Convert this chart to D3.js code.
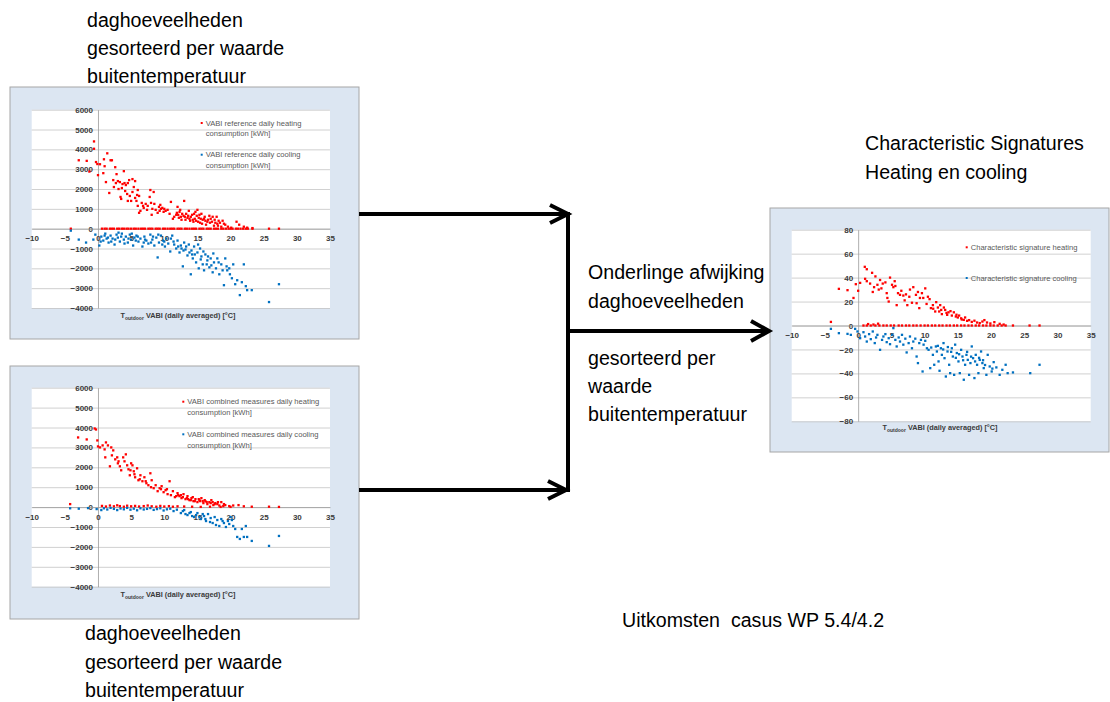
<!DOCTYPE html>
<html><head><meta charset="utf-8">
<script src="https://cdn.jsdelivr.net/npm/d3@7"></script>
<style>body{margin:0;background:#fff}svg{display:block}</style>
</head><body>
<svg id="c" width="1110" height="702"></svg>
<script>
// ---------- data ----------
const xTicks=[-10,-5,0,5,10,15,20,25,30,35];
const yTicksKWh=[-4000,-3000,-2000,-1000,0,1000,2000,3000,4000,5000,6000];
const yTicksSig=[-80,-60,-40,-20,0,20,40,60,80];

// Panel 1: VABI reference
const refHeating=[[-2.9,3450],[-1.7,3420],[-1.3,2880],[-0.6,4400],[-0.6,4030],[-0.3,3360],[-0.1,3260],[0.0,2700],[0.3,3250],[0.8,2800],[0.9,3500],[1.0,3150],[1.2,2350],[1.4,3800],[1.7,1800],[1.9,3450],[2.1,3450],[2.3,2450],[2.4,2100],[2.6,3100],[2.8,2750],[3.0,2400],[3.1,2000],[3.3,2350],[3.4,1600],[3.5,1500],[3.7,2250],[3.9,2900],[4.0,2300],[4.1,1900],[4.2,2200],[4.5,1400],[4.5,2300],[4.7,2450],[4.8,1650],[5.0,1400],[5.2,2500],[5.2,1850],[5.4,2100],[5.6,1550],[5.6,2400],[5.8,1400],[6.0,1950],[6.0,1150],[6.2,1650],[6.2,800],[6.4,900],[6.6,1300],[6.9,1050],[7.2,1250],[7.5,1150],[7.8,1600],[7.9,1950],[8.0,1300],[8.2,1000],[8.1,700],[8.4,1850],[8.7,950],[9.0,800],[9.2,1100],[9.4,1200],[9.5,1000],[9.7,1050],[9.9,850],[10.2,900],[10.5,950],[10.8,750],[11.0,1350],[11.3,500],[11.8,700],[12.0,1100],[12.2,550],[12.3,850],[12.5,600],[12.7,750],[12.9,650],[13.0,1400],[13.2,450],[13.3,750],[13.5,550],[13.7,900],[13.9,400],[14.0,600],[14.2,700],[14.5,750],[14.6,500],[14.8,400],[14.9,650],[15.0,950],[15.1,350],[15.2,550],[15.4,300],[15.6,750],[15.8,450],[16.0,500],[16.1,600],[16.3,200],[16.5,350],[16.8,650],[17.0,500],[17.2,350],[17.5,150],[17.6,450],[17.9,600],[18.0,250],[18.2,400],[18.4,300],[18.6,100],[18.8,400],[19.2,200],[19.6,100],[20.1,50],[20.9,350],[21.3,200],[22.0,100],[22.5,50],[23.3,30],[12.1,700],[12.6,450],[13.6,650],[14.3,450],[14.7,850],[15.3,700],[15.7,250],[16.6,450],[17.3,600],[18.1,150],[2.7,2300],[3.6,2050],[4.4,1750],[5.9,1700],[6.8,1150],[7.4,950],[8.5,1250],[9.3,900],[10.0,1000],[11.5,600],[11.9,800],[12.4,950],[13.1,600],[13.8,500],[14.4,350],[15.5,500],[16.2,400],[16.9,300],[17.7,300],[19.0,250]];
const refHeatingZeroT=[-4.1,0.6,1.0,1.3,1.8,2.1,2.4,2.9,3.2,3.6,3.9,4.3,4.6,5.0,5.4,5.7,6.1,6.5,6.8,7.1,7.6,7.9,8.2,8.7,9.0,9.3,9.8,10.1,10.5,10.9,11.2,11.5,12.0,12.3,12.6,13.1,13.4,13.8,14.2,14.5,14.8,15.3,15.6,15.9,16.4,16.7,17.0,17.5,17.8,18.1,18.6,18.9,19.3,19.7,20.0,20.3,20.8,21.1,21.5,21.9,22.3,22.6,23.3,25.8,27.3];
const refCooling=[[-4.1,-100],[-2.9,-550],[-1.8,-700],[-0.7,-550],[-0.4,-300],[0.2,-850],[0.5,-400],[0.8,-600],[1.1,-250],[1.3,-500],[1.6,-700],[1.9,-350],[2.2,-500],[2.5,-800],[2.8,-300],[3.0,-450],[3.3,-650],[3.6,-250],[3.9,-550],[4.2,-400],[4.5,-700],[4.8,-300],[5.0,-550],[5.3,-850],[5.5,-450],[5.8,-350],[6.1,-650],[6.4,-500],[6.7,-900],[7.0,-400],[7.3,-600],[7.6,-750],[7.9,-300],[8.2,-550],[8.5,-850],[8.8,-450],[9.0,-1450],[9.2,-700],[9.5,-350],[9.8,-600],[10.1,-900],[10.3,-500],[10.6,-750],[10.9,-1150],[11.2,-350],[11.5,-800],[11.8,-1000],[12.0,-600],[12.3,-1200],[12.5,-850],[12.8,-1900],[13.0,-700],[13.2,-1050],[13.5,-1350],[13.7,-800],[14.0,-2300],[14.1,-1100],[14.3,-1500],[14.5,-900],[14.8,-1700],[15.0,-1200],[15.2,-2000],[15.4,-1000],[15.6,-1400],[15.8,-1800],[16.0,-2100],[16.2,-1300],[16.5,-1600],[16.8,-1950],[17.0,-1500],[17.3,-2200],[17.5,-1700],[17.8,-2000],[18.0,-1500],[18.3,-2300],[18.6,-1800],[19.0,-2850],[19.2,-1500],[19.5,-2100],[19.8,-2000],[20.2,-2500],[20.4,-1800],[20.7,-2800],[21.0,-2600],[21.4,-3350],[21.7,-2700],[22.0,-1800],[22.3,-2900],[22.5,-3100],[23.2,-3100],[25.8,-3700],[27.3,-2800],[0.4,-650],[1.0,-350],[2.0,-650],[3.1,-200],[4.0,-750],[5.1,-250],[6.0,-400],[7.1,-550],[8.0,-700],[9.1,-300],[10.0,-650],[11.0,-500],[12.1,-900],[12.9,-1100],[13.8,-1200],[14.6,-1300],[15.1,-800],[15.9,-1150],[16.6,-1400],[17.4,-1250],[18.2,-1700],[19.4,-1900],[1.5,-450],[2.6,-550],[3.5,-400],[4.6,-500],[5.7,-600],[6.9,-700],[8.3,-400],[9.7,-800],[11.4,-650],[12.6,-1000],[13.3,-900],[14.2,-1300],[15.5,-1550],[16.4,-1800],[17.1,-1850],[18.8,-2100],[19.9,-2300]];

// Panel 2: VABI combined measures
const combHeating=[[-4.2,150],[-3.0,3500],[-1.7,3400],[-0.5,3950],[-0.3,3900],[-0.1,3350],[0.0,3050],[0.3,3000],[0.7,3100],[1.0,2900],[1.2,3250],[1.5,3100],[1.1,2500],[1.8,2050],[2.0,3000],[2.3,2850],[2.6,2400],[2.9,2500],[3.1,2300],[3.3,2050],[3.5,1850],[3.8,2500],[4.0,2300],[4.2,2650],[4.4,2100],[4.6,1900],[4.8,1600],[5.0,2200],[5.2,2100],[5.4,1800],[5.6,1500],[5.9,1950],[6.1,1350],[6.4,1600],[6.7,1300],[7.0,1500],[7.3,1200],[7.6,1100],[7.9,1700],[8.1,1350],[8.4,950],[8.7,1100],[9.0,800],[9.3,950],[9.6,1050],[9.9,750],[10.2,850],[10.5,650],[10.8,1300],[11.0,600],[11.3,800],[11.6,500],[12.0,700],[12.3,550],[12.6,450],[12.9,650],[13.2,400],[13.5,550],[13.8,350],[14.1,450],[14.4,300],[14.7,400],[15.0,250],[15.3,350],[15.6,450],[15.9,200],[16.2,300],[16.5,150],[16.8,250],[17.1,350],[17.4,100],[17.7,200],[18.0,150],[18.3,80],[18.6,250],[18.9,50],[19.2,100],[19.8,50],[20.4,80],[21.2,100],[22.0,40],[23.2,20],[25.8,20],[27.3,10],[12.1,600],[12.8,500],[13.4,450],[14.0,350],[14.6,300],[15.2,400],[15.8,300],[16.4,250],[17.0,200],[17.6,150],[0.6,60],[1.2,30],[1.8,80],[2.4,40],[2.9,90],[3.3,50],[3.9,20],[4.4,70],[5.0,40],[5.6,60],[6.2,30],[6.9,50],[7.5,80],[8.1,40],[8.8,20],[9.4,60],[10.0,30],[10.7,50],[11.3,20],[12.0,40],[13.0,30],[14.2,20],[15.5,10],[16.9,20],[18.5,10],[20.0,10],[2.1,2600],[3.0,2200],[4.9,1850],[5.5,1650],[6.3,1400],[7.2,1300],[8.0,1000],[9.5,900],[10.4,900],[11.8,550],[12.5,600],[13.6,400],[14.3,500],[15.4,300],[16.1,350],[17.3,250],[18.1,250],[19.0,150]];
const combCooling=[[-4.2,-60],[-2.9,-80],[-1.5,-50],[-0.2,-100],[0.5,-150],[0.9,-60],[1.4,-120],[1.9,-40],[2.4,-90],[2.9,-150],[3.4,-70],[3.9,-110],[4.4,-40],[4.9,-130],[5.4,-80],[5.9,-160],[6.4,-60],[6.9,-120],[7.4,-90],[7.9,-50],[8.4,-140],[8.9,-100],[9.4,-60],[9.9,-170],[10.4,-110],[10.9,-80],[11.4,-200],[11.9,-130],[12.5,-300],[13.0,-150],[13.5,-400],[14.0,-250],[14.5,-500],[15.0,-300],[15.5,-600],[16.0,-450],[16.3,-700],[16.6,-350],[17.0,-550],[17.3,-800],[17.6,-500],[18.0,-650],[18.3,-950],[18.6,-600],[19.0,-800],[19.3,-1000],[19.6,-700],[20.0,-500],[20.4,-950],[20.7,-1100],[21.0,-1500],[21.4,-1600],[21.7,-1100],[22.0,-1500],[22.3,-950],[22.5,-1500],[23.2,-1700],[25.8,-1950],[27.3,-1450],[12.8,-200],[13.2,-350],[13.8,-300],[14.2,-450],[14.8,-400],[15.3,-500],[15.8,-350],[16.2,-600],[16.9,-750],[17.8,-900],[18.8,-700],[19.8,-850],[20.2,-650]];

// Panel 3: characteristic signatures
const sigHeating=[[-4.1,3],[-2.9,30.6],[-1.6,29.5],[-0.7,23],[-0.35,34.5],[0.3,35.6],[0.0,29],[1.0,49],[1.3,47],[1.05,39],[1.3,37],[1.8,35],[2.1,44],[2.4,32],[2.6,41],[2.9,34],[3.1,30],[3.3,38],[3.7,35],[4.1,36],[4.4,23],[4.6,20],[4.8,40],[5.1,34],[5.3,32],[5.5,37],[5.6,33],[5.8,17],[6.0,27],[6.3,25.6],[6.8,25],[7.2,26],[7.4,17],[7.7,24],[7.8,30],[8.1,19],[8.3,32],[8.7,25.6],[8.8,18.6],[9.2,14.5],[9.3,23],[9.6,27],[9.8,23],[10.1,31],[10.3,18],[10.75,22],[10.95,14.5],[11.25,17],[11.6,11.7],[11.75,19.5],[12.0,15],[12.2,11.7],[12.35,17],[12.6,9.5],[12.9,15],[13.1,13],[13.4,8.9],[13.6,11],[13.9,12],[14.1,8.3],[14.4,11],[14.7,7.5],[15.0,6.7],[15.2,8.3],[15.5,6],[15.9,4.7],[16.1,6.7],[16.4,3.9],[16.7,4.5],[17.1,3],[17.5,4],[17.9,2.5],[18.3,2],[18.7,3.3],[19.0,4.5],[19.4,2.5],[19.9,1.7],[20.5,2.8],[21.3,1.4],[21.9,0.8],[2.2,28],[3.5,31],[4.3,27],[6.5,29],[7.0,21],[9.0,28],[10.5,24],[11.3,14],[12.5,13],[13.3,10.5],[14.8,9],[15.6,5],[1.5,1.2],[2.3,0.8],[3.0,1.5]];
const sigHeatingZeroT=[0.8,1.3,1.9,2.6,3.2,3.8,4.3,4.9,5.4,6.1,6.6,7.2,7.7,8.3,8.8,9.4,10.0,10.5,11.1,11.6,12.2,12.7,13.3,13.8,14.4,14.9,15.5,16.0,16.6,17.1,17.7,18.2,18.8,19.3,19.9,20.4,21.0,21.6,22.2,23.3,25.8,27.3];
const sigCooling=[[-4.1,-2.8],[-2.9,-6.4],[-1.6,-7],[-1.1,-7.8],[-0.45,-2.8],[-0.1,-5],[0.3,-10.6],[0.8,-5.6],[1.05,-9.2],[1.3,-13.4],[1.65,-7.2],[1.9,-11.4],[2.2,-5],[2.5,-14.7],[2.7,-10],[2.9,-7.8],[3.3,-20.3],[3.6,-12],[3.8,-9.2],[4.1,-7.2],[4.3,-13.9],[4.6,-10.6],[4.8,-15.6],[5.1,-7.8],[5.3,-2.2],[5.6,-12],[5.8,-17.5],[6.1,-10],[6.3,-13.4],[6.6,-7.8],[6.8,-16],[7.1,-11],[7.3,-22.5],[7.6,-14.7],[7.8,-9.2],[8.1,-19],[8.3,-13.4],[8.6,-11],[8.8,-25.9],[9.0,-31.4],[9.2,-14.7],[9.45,-12],[9.7,-38.4],[9.85,-16],[10.1,-12.8],[10.35,-19],[10.6,-20.3],[10.85,-35.6],[11.0,-18.4],[11.25,-24.5],[11.45,-32.8],[11.7,-17.5],[11.85,-21.7],[12.1,-30],[12.25,-37.8],[12.45,-19],[12.6,-24.5],[12.85,-14.7],[13.0,-27.3],[13.2,-42.6],[13.45,-21.7],[13.7,-32.8],[13.85,-39.8],[14.1,-19],[14.25,-25.9],[14.45,-41.2],[14.6,-16],[14.85,-23],[15.1,-30],[15.3,-39.8],[15.5,-20.3],[15.7,-25.9],[15.9,-45.3],[16.1,-32.8],[16.3,-24.5],[16.5,-28.7],[16.7,-41.2],[16.9,-31.4],[17.1,-17.5],[17.3,-27.3],[17.5,-43.9],[17.7,-24.5],[17.9,-32.8],[18.1,-39.8],[18.3,-28.7],[18.5,-21.7],[18.7,-31.4],[18.9,-35.6],[19.3,-41.2],[19.5,-24.5],[19.8,-34.2],[20.1,-38.4],[20.4,-30.6],[20.8,-35],[21.3,-41.2],[21.7,-37],[22.2,-32.8],[22.5,-39.8],[23.3,-39.2],[25.9,-39.8],[27.3,-32.8],[12.0,-17],[12.8,-20],[13.5,-18],[14.0,-22],[14.7,-27],[15.2,-24],[15.8,-29],[16.4,-22],[17.0,-26],[17.6,-30],[18.2,-27],[18.8,-29],[19.1,-33],[20.2,-36]];

const legendRef=["VABI reference daily heating","consumption [kWh]","VABI reference daily cooling","consumption [kWh]"];
const legendComb=["VABI combined measures daily heating","consumption [kWh]","VABI combined measures daily cooling","consumption [kWh]"];
const legendSig=["Characteristic signature heating","","Characteristic signature cooling",""];

const textTop=["daghoeveelheden","gesorteerd per waarde","buitentemperatuur"];
const textBottom=["daghoeveelheden","gesorteerd per waarde","buitentemperatuur"];
const textMid1=["Onderlinge afwijking","daghoeveelheden"];
const textMid2=["gesorteerd per","waarde","buitentemperatuur"];
const textRight=["Characteristic Signatures","Heating en cooling"];
const textFoot="Uitkomsten  casus WP 5.4/4.2";

// ---------- drawing ----------
const svg=d3.select("#c");
const RED="#ff0000", BLUE="#0070c0";
const FONT="'Liberation Sans', Arial, sans-serif";

function drawPanel(cfg){
  const g=svg.append("g");
  g.append("rect").attr("x",cfg.ox).attr("y",cfg.oy).attr("width",cfg.ow).attr("height",cfg.oh)
    .attr("fill","#dce6f2").attr("stroke","#a6a6a6").attr("stroke-width",1);
  const x=d3.scaleLinear().domain([xTicks[0],xTicks[xTicks.length-1]]).range([cfg.px0,cfg.px1]);
  const yt=cfg.yTicks;
  const y=d3.scaleLinear().domain([yt[0],yt[yt.length-1]]).range([cfg.py1,cfg.py0]);
  g.append("rect").attr("x",x(xTicks[0])).attr("y",y(yt[yt.length-1]))
    .attr("width",x(xTicks[xTicks.length-1])-x(xTicks[0])).attr("height",y(yt[0])-y(yt[yt.length-1])).attr("fill","#fff");
  const grid=g.append("g").attr("transform",`translate(${x(xTicks[0])},0)`)
    .call(d3.axisLeft(y).tickValues(yt).tickSize(-(x(xTicks[xTicks.length-1])-x(xTicks[0]))).tickFormat(""));
  grid.select(".domain").remove();
  grid.selectAll(".tick line").attr("stroke","#c4c4c4").attr("stroke-width",0.8);
  const ya=g.append("g").attr("transform",`translate(${x(0)},0)`)
    .call(d3.axisLeft(y).tickValues(yt).tickSize(0).tickPadding(5).tickFormat(d3.format("d")));
  ya.select(".domain").attr("stroke","#9a9a9a").attr("stroke-width",0.8);
  ya.selectAll("text").attr("font-family",FONT).attr("font-size",8).attr("font-weight","bold").attr("fill","#3a3a3a");
  const xa=g.append("g").attr("transform",`translate(0,${y(0)})`)
    .call(d3.axisBottom(x).tickValues(xTicks).tickSize(0).tickPadding(7).tickFormat(d3.format("d")));
  xa.select(".domain").attr("stroke","#9a9a9a").attr("stroke-width",0.8);
  xa.selectAll("text").attr("font-family",FONT).attr("font-size",8).attr("font-weight","bold").attr("fill","#3a3a3a");
  const t=g.append("text").attr("x",cfg.titleX).attr("y",cfg.titleY).attr("text-anchor","middle")
    .attr("font-family",FONT).attr("font-size",7.3).attr("font-weight","bold").attr("fill","#3a3a3a");
  t.append("tspan").text("T");
  t.append("tspan").attr("font-size",5).attr("dy",1.5).text("outdoor");
  t.append("tspan").attr("dy",-1.5).text(" VABI (daily averaged) [\u00B0C]");
  const s=2.3;
  cfg.series.forEach(se=>{
    g.append("g").selectAll("rect").data(se.data).join("rect")
      .attr("x",d=>x(d[0])-s/2).attr("y",d=>y(d[1])-s/2).attr("width",s).attr("height",s).attr("fill",se.color);
  });
  const lx=x(xTicks[0])+cfg.legX, ly=y(yt[yt.length-1])+cfg.legY;
  cfg.legend.forEach((txt,i)=>{
    const yy=ly+(i<2?0:cfg.legGap)+(i%2)*10.7;
    if(i%2===0){
      g.append("rect").attr("x",lx-1).attr("y",yy-1).attr("width",2).attr("height",2).attr("fill",i===0?RED:BLUE);
    }
    if(txt) g.append("text").attr("x",lx+4).attr("y",yy+2.5).attr("font-family",FONT).attr("font-size",7.6)
      .attr("fill","#595959").text(txt);
  });
}

const withZero=(arr,zeroT)=>arr.concat(zeroT.map(t=>[t,0]));

drawPanel({ox:10,oy:87,ow:349,oh:252,px0:31.7,px1:330,py0:109.7,py1:308,yTicks:yTicksKWh,
  titleX:178,titleY:318,legX:170,legY:13.3,legGap:31.7,legend:legendRef,
  series:[{color:RED,data:withZero(refHeating,refHeatingZeroT)},{color:BLUE,data:refCooling}]});
drawPanel({ox:10,oy:366,ow:349,oh:253,px0:31.7,px1:330,py0:387.7,py1:586.7,yTicks:yTicksKWh,
  titleX:178,titleY:597,legX:151.6,legY:14,legGap:32.6,legend:legendComb,
  series:[{color:RED,data:combHeating},{color:BLUE,data:combCooling}]});
drawPanel({ox:770,oy:208,ow:339,oh:244,px0:791.7,px1:1090.7,py0:229.7,py1:421.3,yTicks:yTicksSig,
  titleX:940,titleY:430,legX:175,legY:17.6,legGap:30.7,legend:legendSig,
  series:[{color:RED,data:withZero(sigHeating,sigHeatingZeroT)},{color:BLUE,data:sigCooling}]});

const ar=svg.append("g").attr("stroke","#000").attr("stroke-width",4).attr("fill","none").attr("stroke-linejoin","miter");
ar.append("path").attr("d","M359,214H568");
ar.append("path").attr("d","M550,205L568,214L550,223");
ar.append("path").attr("d","M568,212V492");
ar.append("path").attr("d","M359,490H566");
ar.append("path").attr("d","M548,481L566,490L548,499");
ar.append("path").attr("d","M568,331H768");
ar.append("path").attr("d","M751,321L769,331L751,341");

const FS=19.6;
function lines(arr,x,y0,dy){
  arr.forEach((t,i)=>svg.append("text").attr("x",x).attr("y",y0+i*dy).attr("font-family",FONT)
    .attr("font-size",FS).attr("fill","#000").text(t));
}
lines(textTop,87,27,28);
lines(textBottom,85,640,28.5);
lines(textMid1,588,279,29);
lines(textMid2,588,365,28);
lines(textRight,865,150,29);
svg.append("text").attr("x",622).attr("y",627).attr("font-family",FONT).attr("font-size",FS)
  .attr("fill","#000").style("white-space","pre").attr("xml:space","preserve").text(textFoot);
</script>
</body></html>
